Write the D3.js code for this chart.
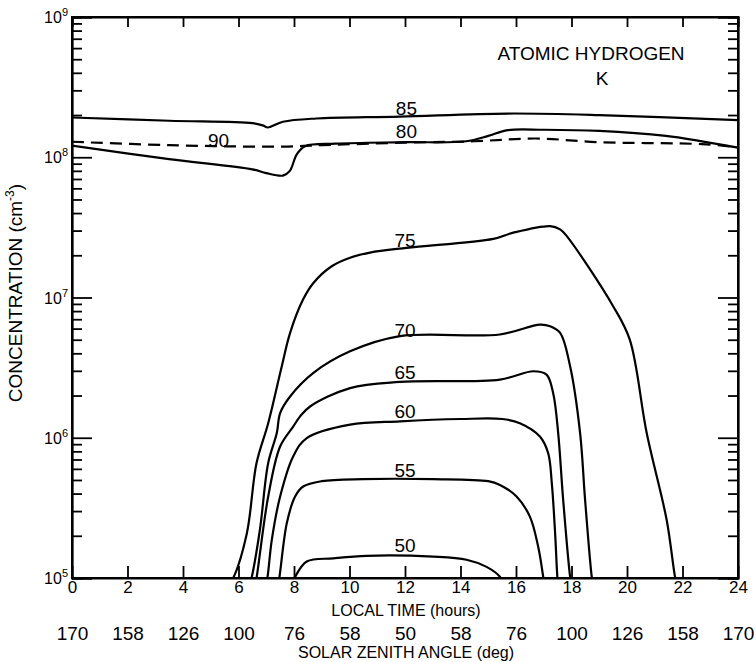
<!DOCTYPE html>
<html>
<head>
<meta charset="utf-8">
<title>Atomic hydrogen</title>
<script src="https://d3js.org/d3.v7.min.js"></script>
<style>
  body { margin: 0; background: #fff; }
  svg text { font-family: "Liberation Sans Narrow", "Liberation Sans", Arial, sans-serif; fill: #000; }
  .curve { fill: none; stroke: #000; stroke-width: 2.2; }
  .axis path, .axis line { stroke: #000; stroke-width: 1.8; }
</style>
</head>
<body>
<svg width="756" height="662"></svg>
<script>
// local time ticks and matching solar zenith angles
var hourTicks = [0, 2, 4, 6, 8, 10, 12, 14, 16, 18, 20, 22, 24];
var zenithLabels = ["170", "158", "126", "100", "76", "58", "50", "58", "76", "100", "126", "158", "170"];
var decadeTicks = [1e5, 1e6, 1e7, 1e8, 1e9];
var decadeExp = ["5", "6", "7", "8", "9"];

// [hour, concentration cm^-3]
var curve85 = [[0, 1.92e8], [3.5, 1.82e8], [6.5, 1.75e8], [6.9, 1.68e8], [7.05, 1.63e8], [7.6, 1.79e8],
  [8.8, 1.89e8], [11.8, 1.95e8], [15.7, 2.05e8], [19, 2.0e8], [24, 1.84e8]];
var curve80 = [[0, 1.21e8], [3.5, 9.7e7], [6.5, 8.2e7], [7.0, 7.7e7], [7.6, 7.4e7], [7.85, 8.0e7],
  [8.1, 1.05e8], [8.4, 1.2e8], [9.5, 1.25e8], [12, 1.28e8], [14.2, 1.3e8], [15.0, 1.42e8],
  [15.7, 1.56e8], [17, 1.57e8], [19, 1.54e8], [21.4, 1.42e8], [22.6, 1.31e8], [24, 1.17e8]];
var curve90 = [[0, 1.29e8], [3.5, 1.22e8], [7.6, 1.19e8], [9, 1.22e8], [12, 1.27e8], [14.5, 1.3e8],
  [16.7, 1.36e8], [19, 1.28e8], [22.7, 1.24e8], [24, 1.18e8]];
var curve75 = [[5.65, 9e4], [5.81, 1.0e5], [6.3, 2.08e5], [6.65, 6.6e5], [7.07, 1.27e6], [7.56, 3.24e6],
  [7.86, 5.6e6], [8.33, 9.7e6], [8.7, 1.27e7], [9.36, 1.67e7], [10.02, 1.92e7], [10.74, 2.09e7],
  [12.06, 2.26e7], [15.18, 2.62e7], [15.9, 2.9e7], [17.23, 3.23e7], [17.59, 3.06e7], [17.83, 2.74e7],
  [19.5, 8.67e6], [20.1, 5.0e6], [20.71, 1.08e6], [21.43, 2.59e5], [21.73, 1.02e5], [21.8, 9e4]];
var curve70 = [[6.4, 9e4], [6.47, 1e5], [6.77, 2.2e5], [7.07, 6.6e5], [7.38, 1.08e6], [7.5, 1.5e6],
  [7.86, 1.97e6], [8.7, 2.9e6], [10.02, 4.13e6], [11.82, 5.3e6], [15.42, 5.45e6], [16.86, 6.41e6],
  [17.23, 6.24e6], [17.59, 5.6e6], [17.95, 3.23e6], [18.31, 1.08e6], [18.49, 3.6e5], [18.73, 1.02e5],
  [18.78, 9e4]];
var curve65 = [[6.6, 9e4], [6.65, 1e5], [7.07, 3.81e5], [7.5, 8.67e5], [7.97, 1.2e6], [8.22, 1.42e6],
  [8.58, 1.67e6], [10.02, 2.26e6], [11.8, 2.5e6], [15.42, 2.6e6], [16.62, 2.98e6], [17.1, 2.82e6],
  [17.34, 2.08e6], [17.52, 1.08e6], [17.7, 3.6e5], [17.95, 1.02e5], [18.0, 9e4]];
var curve60 = [[6.98, 9e4], [7.04, 1e5], [7.2, 1.87e5], [7.5, 3.81e5], [7.97, 7.35e5], [8.46, 9.95e5],
  [10.02, 1.24e6], [11.82, 1.31e6], [14, 1.36e6], [15.5, 1.36e6], [16.14, 1.27e6], [16.86, 1.02e6],
  [17.16, 7.76e5], [17.29, 4.74e5], [17.41, 2.08e5], [17.49, 1.02e5], [17.52, 9e4]];
var curve55 = [[7.42, 9e4], [7.47, 1e5], [7.74, 2.46e5], [8.04, 3.81e5], [8.33, 4.49e5], [9, 4.9e5],
  [10.5, 5.07e5], [13, 5.07e5], [15.0, 4.9e5], [15.42, 4.61e5], [16.02, 3.81e5], [16.5, 2.74e5],
  [16.8, 1.67e5], [16.98, 1.02e5], [17.02, 9e4]];
var curve50 = [[7.9, 9e4], [8.04, 1.02e5], [8.46, 1.31e5], [9.42, 1.38e5], [10.62, 1.44e5],
  [13.02, 1.42e5], [14.22, 1.35e5], [14.94, 1.2e5], [15.42, 1.02e5], [15.55, 9e4]];

// label text, hour and concentration at the label baseline
var curveLabels = [
  ["85", 12.05, 2.0e8], ["80", 12.05, 1.37e8], ["90", 5.28, 1.18e8], ["75", 12.0, 2.29e7],
  ["70", 12.0, 5.23e6], ["65", 12.0, 2.62e6], ["60", 12.0, 1.38e6], ["55", 12.0, 5.25e5], ["50", 12.0, 1.53e5]
];

var svg = d3.select("svg");
var x = d3.scaleLinear().domain([0, 24]).range([72, 738]);
var y = d3.scaleLog().domain([1e5, 1e9]).range([578, 17]);

var minorTicks = [];
for (var e = 5; e < 9; e++) {
  for (var m = 2; m <= 9; m++) minorTicks.push(m * Math.pow(10, e));
}

svg.append("defs").append("clipPath").attr("id", "plot")
  .append("rect").attr("x", x(0)).attr("y", y(1e9)).attr("width", x(24) - x(0)).attr("height", y(1e5) - y(1e9));

// left and right axes
svg.append("g").attr("class", "axis").attr("transform", "translate(" + x(0) + ",0)")
  .call(d3.axisRight(y).tickValues(decadeTicks).tickSize(20).tickFormat(""));
svg.append("g").attr("class", "axis").attr("transform", "translate(" + x(0) + ",0)")
  .call(d3.axisRight(y).tickValues(minorTicks).tickSize(10).tickFormat(""));
svg.append("g").attr("class", "axis").attr("transform", "translate(" + x(24) + ",0)")
  .call(d3.axisLeft(y).tickValues(decadeTicks).tickSize(20).tickFormat(""));
svg.append("g").attr("class", "axis").attr("transform", "translate(" + x(24) + ",0)")
  .call(d3.axisLeft(y).tickValues(minorTicks).tickSize(10).tickFormat(""));

// top and bottom axes
svg.append("g").attr("class", "axis").attr("transform", "translate(0," + y(1e9) + ")")
  .call(d3.axisBottom(x).tickValues(hourTicks).tickSize(10).tickFormat(""));
var bottom = svg.append("g").attr("class", "axis").attr("transform", "translate(0," + y(1e5) + ")")
  .call(d3.axisBottom(x).tickValues(hourTicks).tickSizeInner(-12).tickSizeOuter(0).tickPadding(3));
bottom.selectAll("text").attr("font-size", 17).attr("dy", "0.72em");

var zen = svg.append("g").attr("class", "axis").attr("transform", "translate(0,623)")
  .call(d3.axisBottom(x).tickValues(hourTicks).tickSize(0).tickFormat(function (d, i) { return zenithLabels[i]; }));
zen.select(".domain").remove();
zen.selectAll("text").attr("font-size", 19).attr("dy", "0.72em");

// y tick labels with superscripts
var yl = svg.append("g").selectAll("text").data(decadeTicks).join("text")
  .attr("x", 68).attr("y", function (d) { return y(d) + 6; })
  .attr("text-anchor", "end").attr("font-size", 16);
yl.append("tspan").text("10");
yl.append("tspan").attr("font-size", 11).attr("dy", -7).text(function (d, i) { return decadeExp[i]; });

// axis titles
svg.append("text").attr("x", 406).attr("y", 616).attr("text-anchor", "middle").attr("font-size", 16)
  .text("LOCAL TIME (hours)");
svg.append("text").attr("x", 406).attr("y", 658).attr("text-anchor", "middle").attr("font-size", 16)
  .text("SOLAR ZENITH ANGLE (deg)");
var yt = svg.append("text").attr("transform", "translate(22,293) rotate(-90)")
  .attr("text-anchor", "middle").attr("font-size", 19);
yt.append("tspan").text("CONCENTRATION  (cm");
yt.append("tspan").attr("font-size", 12).attr("dy", -8).text("-3");
yt.append("tspan").attr("dy", 8).text(")");

svg.append("text").attr("x", 591).attr("y", 60).attr("text-anchor", "middle").attr("font-size", 19)
  .text("ATOMIC HYDROGEN");
svg.append("text").attr("x", 602).attr("y", 85).attr("text-anchor", "middle").attr("font-size", 19)
  .text("K");

// curves
var line = d3.line().x(function (d) { return x(d[0]); }).y(function (d) { return y(d[1]); })
  .curve(d3.curveCatmullRom.alpha(0.5));
var plot = svg.append("g").attr("clip-path", "url(#plot)");
[curve85, curve80, curve75, curve70, curve65, curve60, curve55, curve50].forEach(function (c) {
  plot.append("path").attr("class", "curve").attr("d", line(c));
});
plot.append("path").attr("class", "curve").attr("stroke-dasharray", "12,7").attr("d", line(curve90));

svg.append("g").selectAll("text").data(curveLabels).join("text")
  .attr("x", function (d) { return x(d[1]); }).attr("y", function (d) { return y(d[2]); })
  .attr("text-anchor", "middle").attr("font-size", 19)
  .text(function (d) { return d[0]; });

// frame
svg.append("rect").attr("x", x(0)).attr("y", y(1e9)).attr("width", x(24) - x(0)).attr("height", y(1e5) - y(1e9))
  .attr("fill", "none").attr("stroke", "#000").attr("stroke-width", 2);
</script>
</body>
</html>
